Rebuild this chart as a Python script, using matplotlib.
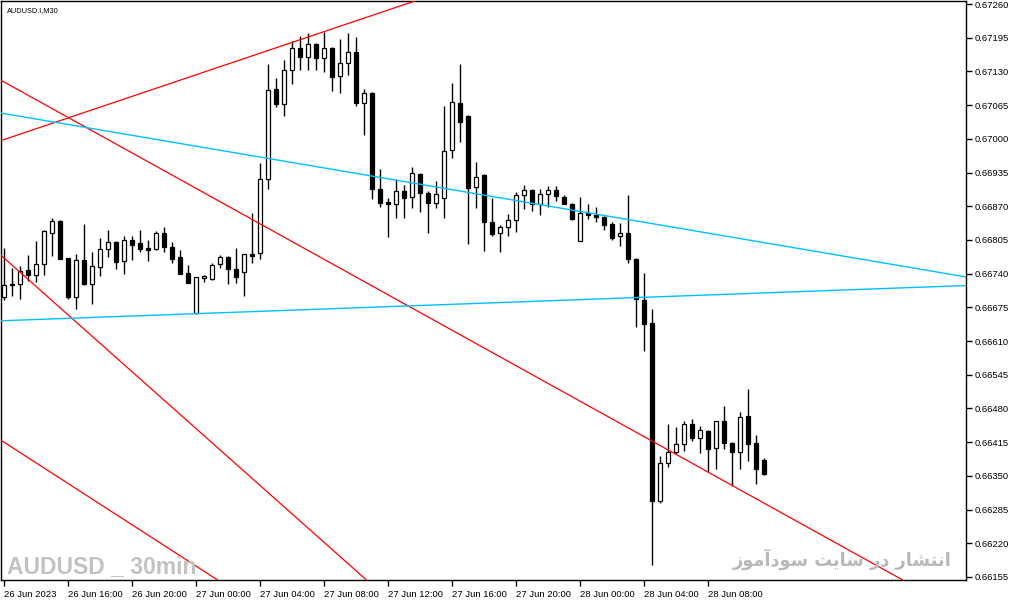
import numpy as np
import matplotlib
matplotlib.use("Agg")
import matplotlib.pyplot as plt

# AUDUSD M30 candles, 26 Jun 2023 12:00 onwards (prices)
opens = [0.66695, 0.66720, 0.66720, 0.66747, 0.66738, 0.66759, 0.66819, 0.66842,
         0.66770, 0.66695, 0.66767, 0.66720, 0.66753, 0.66788, 0.66801, 0.66765,
         0.66805, 0.66799, 0.66790, 0.66788, 0.66819, 0.66792, 0.66772, 0.66742,
         0.66664, 0.66732, 0.66730, 0.66759, 0.66772, 0.66749, 0.66743, 0.66778,
         0.66780, 0.66923, 0.67096, 0.67067, 0.67133, 0.67175, 0.67158, 0.67183,
         0.67156, 0.67175, 0.67121, 0.67146, 0.67168, 0.67069, 0.67089, 0.66904,
         0.66878, 0.66875, 0.66900, 0.66888, 0.66932, 0.66896, 0.66877, 0.66886,
         0.66979, 0.67069, 0.67044, 0.66907, 0.66931, 0.66840, 0.66819, 0.66830,
         0.66844, 0.66892, 0.66902, 0.66875, 0.66894, 0.66902, 0.66888, 0.66875,
         0.66803, 0.66857, 0.66853, 0.66850, 0.66836, 0.66813, 0.66819, 0.66769,
         0.66690, 0.66645, 0.66302, 0.66375, 0.66396, 0.66412, 0.66450, 0.66423,
         0.66437, 0.66404, 0.66456, 0.66414, 0.66396, 0.66466, 0.66414, 0.66381]
highs = [0.66790, 0.66751, 0.66755, 0.66776, 0.66803, 0.66824, 0.66848, 0.66844,
         0.66771, 0.66778, 0.66836, 0.66782, 0.66809, 0.66825, 0.66802, 0.66813,
         0.66813, 0.66825, 0.66805, 0.66823, 0.66830, 0.66801, 0.66786, 0.66757,
         0.66734, 0.66738, 0.66761, 0.66776, 0.66774, 0.66790, 0.66778, 0.66857,
         0.66954, 0.67145, 0.67118, 0.67152, 0.67189, 0.67199, 0.67204, 0.67185,
         0.67206, 0.67177, 0.67193, 0.67204, 0.67197, 0.67096, 0.67091, 0.66942,
         0.66886, 0.66923, 0.66911, 0.66946, 0.66934, 0.66900, 0.66919, 0.67064,
         0.67108, 0.67145, 0.67046, 0.66956, 0.66932, 0.66886, 0.66834, 0.66855,
         0.66898, 0.66911, 0.66904, 0.66904, 0.66909, 0.66909, 0.66892, 0.66877,
         0.66888, 0.66875, 0.66869, 0.66851, 0.66840, 0.66838, 0.66892, 0.66770,
         0.66742, 0.66672, 0.66389, 0.66450, 0.66445, 0.66456, 0.66460, 0.66446,
         0.66438, 0.66456, 0.66485, 0.66416, 0.66474, 0.66518, 0.66429, 0.66385]
lows = [0.66690, 0.66697, 0.66691, 0.66726, 0.66724, 0.66738, 0.66774, 0.66768,
        0.66691, 0.66672, 0.66718, 0.66682, 0.66736, 0.66772, 0.66749, 0.66740,
        0.66767, 0.66782, 0.66765, 0.66786, 0.66782, 0.66761, 0.66740, 0.66722,
        0.66662, 0.66724, 0.66728, 0.66751, 0.66720, 0.66722, 0.66697, 0.66761,
        0.66768, 0.66904, 0.67062, 0.67044, 0.67106, 0.67133, 0.67133, 0.67133,
        0.67129, 0.67092, 0.67089, 0.67123, 0.67064, 0.67008, 0.66884, 0.66869,
        0.66811, 0.66848, 0.66848, 0.66867, 0.66859, 0.66819, 0.66867, 0.66848,
        0.66963, 0.66994, 0.66798, 0.66867, 0.66784, 0.66813, 0.66782, 0.66813,
        0.66821, 0.66865, 0.66861, 0.66853, 0.66869, 0.66880, 0.66875, 0.66844,
        0.66803, 0.66846, 0.66840, 0.66825, 0.66805, 0.66794, 0.66761, 0.66637,
        0.66591, 0.66179, 0.66298, 0.66367, 0.66392, 0.66398, 0.66418, 0.66394,
        0.66358, 0.66364, 0.66402, 0.66331, 0.66364, 0.66379, 0.66335, 0.66352]
closes = [0.66718, 0.66718, 0.66745, 0.66738, 0.66759, 0.66823, 0.66842, 0.66769,
          0.66695, 0.66767, 0.66720, 0.66755, 0.66788, 0.66801, 0.66763, 0.66805,
          0.66796, 0.66788, 0.66786, 0.66819, 0.66792, 0.66769, 0.66740, 0.66722,
          0.66734, 0.66736, 0.66757, 0.66772, 0.66749, 0.66734, 0.66778, 0.66774,
          0.66923, 0.67094, 0.67067, 0.67133, 0.67175, 0.67158, 0.67183, 0.67156,
          0.67175, 0.67119, 0.67146, 0.67168, 0.67069, 0.67089, 0.66904, 0.66877,
          0.66875, 0.66900, 0.66886, 0.66934, 0.66896, 0.66877, 0.66894, 0.66977,
          0.67071, 0.67033, 0.66905, 0.66927, 0.66840, 0.66817, 0.66830, 0.66844,
          0.66892, 0.66902, 0.66875, 0.66894, 0.66902, 0.66890, 0.66875, 0.66846,
          0.66857, 0.66853, 0.66850, 0.66834, 0.66809, 0.66819, 0.66769, 0.66692,
          0.66643, 0.66302, 0.66375, 0.66396, 0.66412, 0.66450, 0.66423, 0.66439,
          0.66402, 0.66456, 0.66414, 0.66396, 0.66464, 0.66412, 0.66364, 0.66354]

# trend lines: two anchor points each (bar index, price)
red_lines = [((-0.5, 0.66996), (50.625, 0.67262)),
             ((-0.5, 0.67114), (112.25, 0.66150)),
             ((-0.125, 0.66772), (45.25, 0.66150)),
             ((-0.5, 0.66420), (26.625, 0.66150))]
blue_lines = [((-0.5, 0.67050), (120.125, 0.66734)),
              ((-0.5, 0.66649), (120.125, 0.66717))]

price_ticks = [0.67260, 0.67195, 0.67130, 0.67065, 0.67000, 0.66935, 0.66870,
               0.66805, 0.66740, 0.66675, 0.66610, 0.66545, 0.66480, 0.66415,
               0.66350, 0.66285, 0.66220, 0.66155]
time_tick_bars = [0, 8, 16, 24, 32, 40, 48, 56, 64, 72, 80, 88]
time_labels = ["26 Jun 2023", "26 Jun 16:00", "26 Jun 20:00", "27 Jun 00:00",
               "27 Jun 04:00", "27 Jun 08:00", "27 Jun 12:00", "27 Jun 16:00",
               "27 Jun 20:00", "28 Jun 00:00", "28 Jun 04:00", "28 Jun 08:00"]

W, H = 1013, 601
fig = plt.figure(figsize=(W / 100, H / 100), dpi=100)
ax = fig.add_axes([1 / W, 21 / H, 965 / W, 579 / H])

o = np.array(opens)
h = np.array(highs)
l = np.array(lows)
c = np.array(closes)
x = np.arange(len(o))
up = c >= o

ax.vlines(x, l, h, color='black', linewidth=1.0, zorder=2)
body_lo = np.minimum(o, c)
body_h = np.abs(c - o)
body_h = np.maximum(body_h, 0.000012)
ax.bar(x, body_h, bottom=body_lo, width=0.6,
       color=np.where(up, 'white', 'black'), edgecolor='black',
       linewidth=0.9, zorder=3)

for p1, p2 in red_lines:
    ax.axline(p1, p2, color='#ff0000', linewidth=0.9, zorder=4)
for p1, p2 in blue_lines:
    ax.axline(p1, p2, color='#00bfff', linewidth=1.0, zorder=4)

ax.set_xlim(-0.375, 120.25)
ax.set_ylim(0.661492, 0.672658)

ax.yaxis.tick_right()
ax.set_yticks(price_ticks)
ax.set_yticklabels(["%.5f" % v for v in price_ticks])
ax.set_xticks(time_tick_bars)
ax.set_xticklabels(time_labels, ha='left')
ax.tick_params(axis='both', direction='out', length=4, width=1, color='black',
               labelsize=6.8, pad=2)
ax.tick_params(axis='x', pad=3)
for lab in ax.get_xticklabels():
    lab.set_family('Liberation Sans')
    lab.set_x(lab.get_position()[0] - 0.1)
for lab in ax.get_yticklabels():
    lab.set_family('Liberation Sans')
for s in ax.spines.values():
    s.set_linewidth(1.0)
    s.set_color('black')

ax.text(0.006, 0.989, "AUDUSD.I,M30", transform=ax.transAxes, fontsize=5.3,
        family='Liberation Sans', va='top', ha='left', color='black')

fig.text(7 / W, 1 - 573 / H, "AUDUSD _ 30min", fontsize=16.5, fontweight='bold',
         family='Liberation Sans', color='#c2c2c2',
         va='baseline', ha='left')

# "انتشار در سایت سودآموز" written with Arabic presentation forms in visual
# order, since matplotlib does no Arabic shaping on its own
fa = ("\uFE8D\uFEE7\uFE98\uFEB8\uFE8E\uFEAD \uFEA9\uFEAD "
      "\uFEB3\uFE8E\uFEF3\uFE96 \uFEB3\uFEEE\uFEA9\uFE81\uFEE3\uFEEE\uFEAF")
fig.text(952 / W, 1 - 566 / H, fa[::-1], fontsize=12.8, fontweight='bold',
         family='DejaVu Sans', color='#b8b8b8', va='baseline', ha='right')

fig.savefig("out.png", dpi=100)
